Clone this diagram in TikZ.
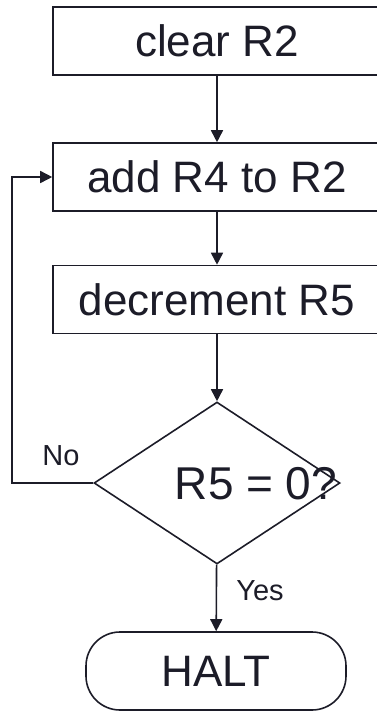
\documentclass[tikz,border=0pt]{standalone}
\usepackage{fontspec}
\setmainfont{Liberation Sans}
\usetikzlibrary{arrows.meta}
\usetikzlibrary{shapes.geometric}
\definecolor{ink}{RGB}{28,28,40}
\tikzset{every picture/.style={line width=1.6pt}}
\tikzset{
  stepbox/.style={draw=ink, text=ink, rectangle, minimum width=328pt, minimum height=68pt, inner sep=0pt, font=\fontsize{44}{50}\selectfont},
  decision/.style={draw=ink, diamond, minimum width=246pt, minimum height=162pt, inner sep=0pt},
  halt/.style={draw=ink, text=ink, rectangle, rounded corners=34pt, minimum width=260pt, minimum height=78pt, inner sep=0pt, font=\fontsize{44}{50}\selectfont},
  flow/.style={draw=ink, -{Triangle[length=12pt,width=12pt]}},
  small/.style={text=ink, inner sep=0pt, font=\fontsize{29}{34}\selectfont}
}

\begin{document}
\begin{tikzpicture}[x=1pt,y=-1pt]
          \clip (0,0) rectangle (377,713);
          \node[stepbox] (clear) at (217,41) {clear R2};
          \node[stepbox] (add) at (217,177) {add R4 to R2};
          \node[stepbox] (dec) at (217,299.5) {decrement R5};
          \node[decision] (test) at (217,483) {};
          \node[text=ink, inner sep=0pt, font=\fontsize{46}{52}\selectfont] (cond) at (256,484) {R5 = 0?};
          \node[halt] (stop) at (216,671) {HALT};
          \coordinate (loop) at (12,483);
          \draw[flow] (clear) -- (add);
          \draw[flow] (add) -- (dec);
          \draw[flow] (dec) -- (test);
          \draw[flow] (test) -- (stop);
          \draw[flow] (test.west) -- (loop) |- (add.west);
          \node[small] (no) at (61,456) {No};
          \node[small] (yes) at (260,591) {Yes};
        \end{tikzpicture}
\end{document}
